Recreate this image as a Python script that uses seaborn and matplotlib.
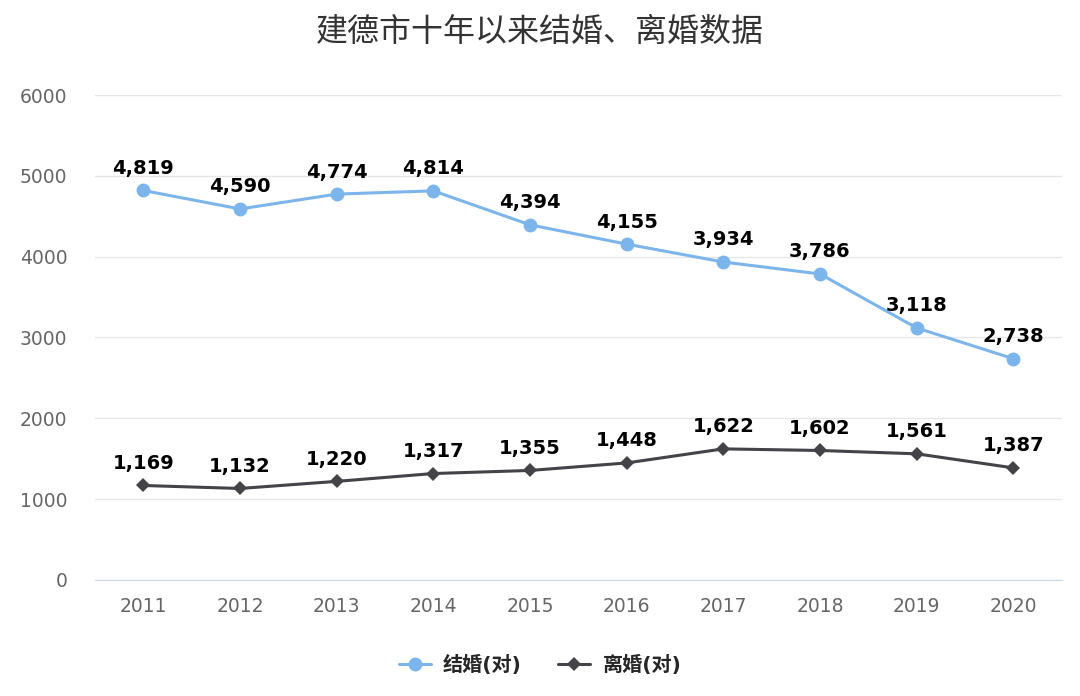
import numpy as np
import pandas as pd
import matplotlib
matplotlib.use('Agg')
import matplotlib.pyplot as plt
import seaborn as sns

years = ['2011', '2012', '2013', '2014', '2015', '2016', '2017', '2018', '2019', '2020']
marriage = [4819, 4590, 4774, 4814, 4394, 4155, 3934, 3786, 3118, 2738]
divorce = [1169, 1132, 1220, 1317, 1355, 1448, 1622, 1602, 1561, 1387]
series_names = ['结婚(对)', '离婚(对)']
colors = ['#7cb5ec', '#434348']

sns.set_style('white')
plt.rcParams['font.family'] = ['DejaVu Sans', 'Noto Sans CJK SC']

df = pd.DataFrame({'year': years * 2,
                   'value': marriage + divorce,
                   'kind': [series_names[0]] * len(years) + [series_names[1]] * len(years)})

fig = plt.figure(figsize=(10.8, 6.96), dpi=100)
ax = fig.add_axes([0.088, 0.1667, 0.895, 0.6968])

sns.lineplot(data=df, x='year', y='value', hue='kind', style='kind',
             palette=colors, markers=['o', 'D'], dashes=False,
             markersize=10, linewidth=2.2, markeredgewidth=0, ax=ax, legend=False)
# smaller diamonds for the second series
ax.lines[1].set_markersize(7)

for vals in [marriage, divorce]:
    for i, v in enumerate(vals):
        ax.annotate(f'{v:,}', (i, v), xytext=(0, 9), textcoords='offset points',
                    ha='center', va='bottom', fontsize=14, fontweight='bold', color='black')

ax.set_xlim(-0.5, len(years) - 0.5)
ax.set_ylim(0, 6000)
ax.set_yticks(range(0, 6001, 1000))
ax.grid(axis='y', color='#e6e6e6', linewidth=1)
ax.set_axisbelow(True)
for s in ['top', 'right', 'left']:
    ax.spines[s].set_visible(False)
ax.spines['bottom'].set_color('#ccd6eb')
ax.tick_params(axis='x', length=0, labelsize=13.5, labelcolor='#666666', pad=12)
ax.tick_params(axis='y', length=0, labelsize=13.5, labelcolor='#666666', pad=20)
ax.set_xlabel('')
ax.set_ylabel('')

fig.suptitle('建德市十年以来结婚、离婚数据', y=0.977, fontsize=23, color='#333333',
             family=['Noto Sans CJK SC', 'DejaVu Sans'])

handles = [plt.Line2D([], [], color=colors[0], marker='o', markersize=10, markeredgewidth=0, linewidth=2.2),
           plt.Line2D([], [], color=colors[1], marker='D', markersize=7, markeredgewidth=0, linewidth=2.2)]
fig.legend(handles, series_names, loc='center', bbox_to_anchor=(0.5, 0.044), ncol=2,
           frameon=False, handlelength=1.6, handletextpad=0.6, columnspacing=1.8,
           prop={'family': ['DejaVu Sans', 'Noto Sans CJK SC'], 'weight': 'bold', 'size': 14.5})

fig.savefig('out.png', dpi=100)
